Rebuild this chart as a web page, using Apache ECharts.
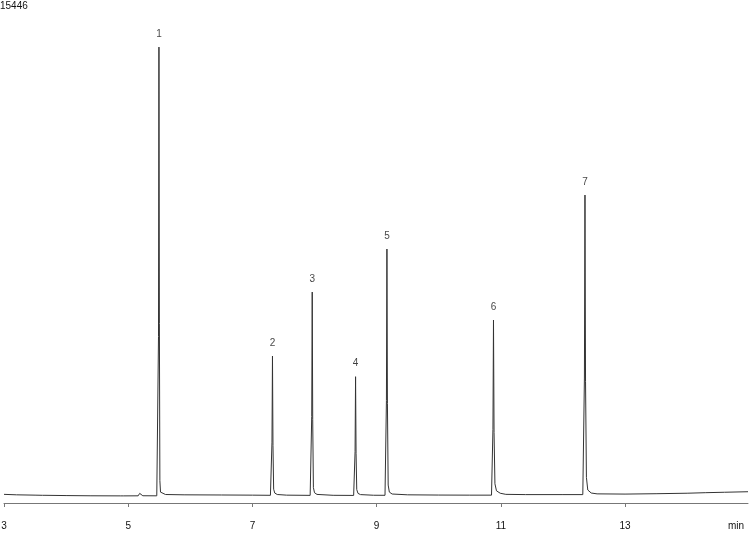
<!DOCTYPE html>
<html>
<head>
<meta charset="utf-8">
<title>Chromatogram</title>
<script src="https://cdn.jsdelivr.net/npm/echarts@6/dist/echarts.min.js"></script>
<style>
    html, body { margin: 0; padding: 0; background: #fff; }
    #chart { width: 750px; height: 537px; }
</style>
</head>
<body>
<div id="chart"></div>
<script>
// detector trace (time in min, signal in counts)
var traceTime = [
    3.00, 3.20, 3.50, 3.62, 3.64, 3.66, 4.00, 4.40, 4.88, 4.90, 4.92, 5.16, 5.185, 5.198, 5.21, 5.235, 5.46,
    5.478, 5.488, 5.495, 5.502, 5.510, 5.520, 5.545, 5.60, 5.90, 6.50, 7.00, 7.29,
    7.305, 7.315, 7.323, 7.331, 7.342, 7.36, 7.40, 7.55, 7.93,
    7.945, 7.955, 7.963, 7.971, 7.982, 8.00, 8.04, 8.30, 8.63,
    8.643, 8.653, 8.661, 8.669, 8.680, 8.70, 8.74, 8.95, 9.135,
    9.148, 9.158, 9.166, 9.174, 9.186, 9.205, 9.25, 9.50, 10.00, 10.50, 10.85,
    10.862, 10.873, 10.882, 10.891, 10.905, 10.93, 10.99, 11.08, 11.40, 12.00, 12.32,
    12.336, 12.346, 12.355, 12.364, 12.378, 12.40, 12.455, 12.55, 13.00, 13.50, 14.00, 14.30, 14.60, 14.98
];
var traceSignal = [
    270, 255, 245, 240, 265, 240, 232, 225, 222, 262, 222, 224, 300, 340, 300, 226, 224,
    230, 5200, 14227, 5600, 700, 340, 285, 265, 255, 250, 245, 240,
    242, 1900, 4586, 1800, 430, 310, 265, 245, 238,
    240, 2700, 6583, 2600, 480, 320, 268, 240, 236,
    238, 1600, 3941, 1550, 420, 300, 262, 242, 240,
    242, 3200, 7925, 3100, 560, 340, 280, 255, 248, 245, 245,
    247, 2300, 5710, 2200, 600, 380, 305, 270, 262, 262, 262,
    265, 3900, 9610, 3800, 800, 406, 312, 285, 278, 290, 305, 322, 335, 352
];

// numbered peaks
var peakNames = ['1', '2', '3', '4', '5', '6', '7'];
var peakTime = [5.495, 7.323, 7.963, 8.661, 9.166, 10.882, 12.355];
var peakHeight = [14227, 4586, 6583, 3941, 7925, 5710, 9610];

var yTop = 15446;

var trace = traceTime.map(function (t, i) {
    return [t, traceSignal[i]];
});
var peaks = peakTime.map(function (t, i) {
    return { value: [t, peakHeight[i]], name: peakNames[i] };
});

var chart = echarts.init(document.getElementById('chart'));
chart.setOption({
    animation: false,
    backgroundColor: '#fff',
    textStyle: { fontFamily: 'Liberation Sans, Arial, sans-serif' },
    grid: { left: 4, right: 2, top: 8, bottom: 34, containLabel: false, outerBoundsMode: 'none' },
    xAxis: {
        type: 'value',
        min: 3,
        max: 14.98,
        interval: 2,
        name: 'min',
        nameLocation: 'end',
        nameGap: -4,
        nameTextStyle: {
            color: '#111', fontSize: 10, align: 'right', verticalAlign: 'top',
            padding: [18, 0, 0, 0]
        },
        axisLine: { lineStyle: { color: '#777', width: 1 } },
        axisTick: { show: true, length: 4, lineStyle: { color: '#777' } },
        axisLabel: { color: '#111', fontSize: 10, margin: 18, showMaxLabel: false },
        splitLine: { show: false }
    },
    yAxis: {
        type: 'value',
        min: 0,
        max: yTop,
        offset: 4,
        name: String(yTop),
        nameLocation: 'end',
        nameGap: 2,
        nameTextStyle: { color: '#111', fontSize: 10, align: 'left', verticalAlign: 'middle' },
        axisLine: { show: false },
        axisTick: { show: false },
        axisLabel: { show: false },
        splitLine: { show: false }
    },
    series: [{
        type: 'line',
        data: trace,
        showSymbol: false,
        symbol: 'none',
        lineStyle: { color: '#333', width: 1 },
        silent: true
    }, {
        type: 'scatter',
        data: peaks,
        symbolSize: 0,
        label: {
            show: true,
            position: 'top',
            distance: 8,
            color: '#111',
            fontSize: 10,
            formatter: function (p) { return p.name; }
        },
        silent: true
    }]
});
</script>
</body>
</html>
